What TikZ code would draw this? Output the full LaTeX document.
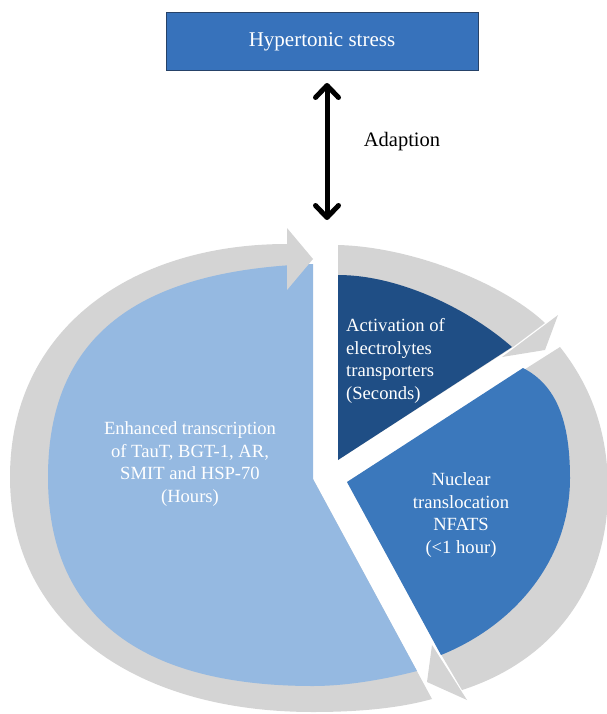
\documentclass[tikz,border=0pt]{standalone}
\usepackage{fontspec}
\setmainfont{Liberation Serif}
\usetikzlibrary{arrows.meta}
\definecolor{lblue}{RGB}{149,185,225}
\definecolor{dblue}{RGB}{31,78,133}
\definecolor{mblue}{RGB}{59,120,188}
\definecolor{boxblue}{RGB}{55,114,187}
\definecolor{boxedge}{RGB}{38,66,104}
\definecolor{ring}{RGB}{212,212,212}
\begin{document}
\begin{tikzpicture}[x=1pt,y=-1pt,
  ringpart/.style={fill=ring,draw=none},
  lbl/.style={text=white,font=\fontsize{18.6}{22.5}\selectfont,align=center,inner sep=0pt},
  titlebox/.style={fill=boxblue,draw=boxedge,line width=1pt,text=white,
    minimum width=312pt,minimum height=58pt,inner sep=0pt,
    font=\fontsize{21}{25}\selectfont},
  dblarrow/.style={line width=5pt,
    {Straight Barb[length=12pt,width=23pt,round]}-{Straight Barb[length=12pt,width=23pt,round]}}
]
\useasboundingbox (0,0) rectangle (607,714);

% title and adaption arrow
\node[titlebox] (stress) at (322,42) {Hypertonic stress};
\node[font=\fontsize{20.5}{24}\selectfont,inner sep=0pt] (adapt) at (402,142) {Adaption};
\coordinate (atop) at (327,83);
\coordinate (abot) at (327,220);
\draw[dblarrow] (atop) -- (abot);

% gray cycle arrows (bodies)
\fill[ringpart] (313,479) -- (432,699) .. controls (400,708) and (360,712) .. (313,712)
  .. controls (130,712) and (10,620) .. (10,477)
  .. controls (10,330) and (130,244) .. (287,244) -- (287,290) -- cycle;
\fill[ringpart] (338,460) -- (338,245) .. controls (415,247) and (505,285) .. (545,323)
  -- (513,347) -- cycle;
\fill[ringpart] (347,482) -- (560,347) .. controls (590,385) and (608,430) .. (608,490)
  .. controls (608,585) and (555,660) .. (462,690) -- (442,656) -- cycle;

% pie sectors
\fill[lblue] (313,479) -- (313,264) .. controls (138,270) and (48,336) .. (48,477)
  .. controls (48,614) and (138,686) .. (313,686)
  .. controls (350,686) and (390,678) .. (417,671) -- cycle;
\fill[dblue] (338,460) -- (338,275) .. controls (400,275) and (470,310) .. (512,347) -- cycle;
\fill[mblue] (347,482) -- (523,368) .. controls (556,385) and (570,420) .. (570,478)
  .. controls (570,560) and (515,625) .. (441,655) -- cycle;

% arrow heads
\fill[ringpart] (287,228) -- (313,259) -- (287,290) -- cycle;
\fill[ringpart] (558,315) -- (545,350) -- (502,357) -- cycle;
\fill[ringpart] (432,645) -- (427,682) -- (467,700) -- cycle;

% labels
\node[lbl] (enh) at (190,464) {Enhanced transcription\\of TauT, BGT-1, AR,\\SMIT and HSP-70\\(Hours)};
\node[lbl,align=left,anchor=west] (act) at (346,361) {Activation of\\electrolytes\\transporters\\(Seconds)};
\node[lbl] (nuc) at (461,515) {Nuclear\\translocation\\NFATS\\(<1 hour)};
\end{tikzpicture}
\end{document}
